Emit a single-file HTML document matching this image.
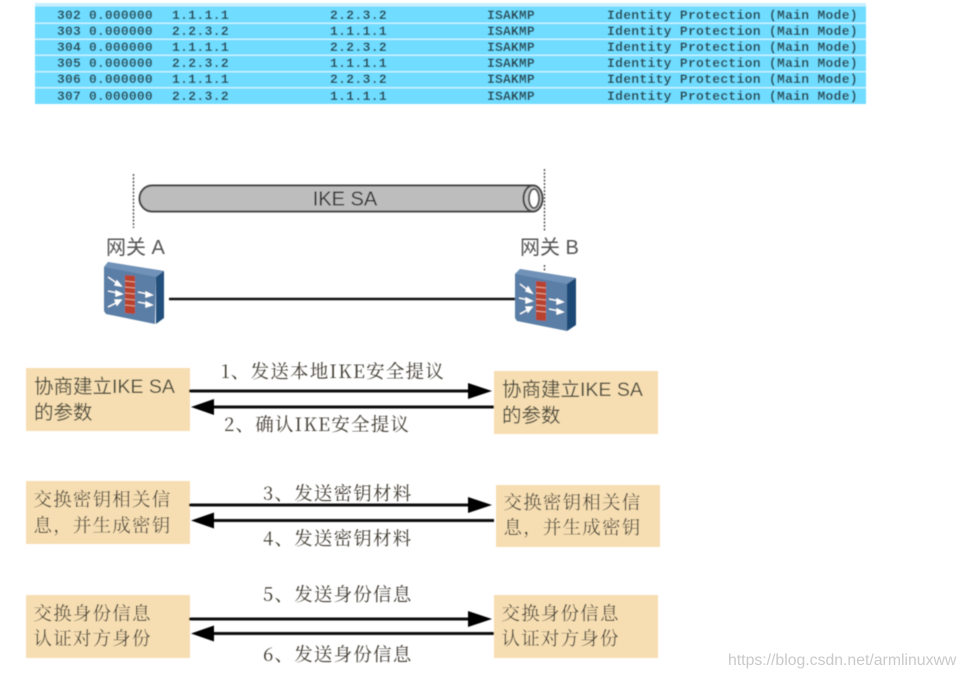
<!DOCTYPE html>
<html>
<head>
<meta charset="utf-8">
<style>
html,body{margin:0;padding:0;background:#fff;width:966px;height:677px;overflow:hidden}
svg{display:block}
.m{font-family:"Liberation Mono",monospace;font-size:13px;font-weight:bold;fill:#2a4a52;letter-spacing:.35px}
.g{font-family:"Liberation Sans","Noto Sans CJK SC",sans-serif;font-size:20px;fill:#555}
.b{font-family:"Liberation Sans","Noto Sans CJK SC",sans-serif;font-size:19.500px;fill:#4a4a3a}
.t{font-family:"Noto Serif CJK SC","Liberation Serif",serif;font-size:18.500px;fill:#3f3a30;letter-spacing:1.200px}
</style>
</head>
<body>
<svg width="966" height="677" viewBox="0 0 966 677" xmlns="http://www.w3.org/2000/svg">
<defs>
<filter id="bl" x="-5%" y="-5%" width="110%" height="110%"><feGaussianBlur stdDeviation="0.4"/></filter>
</defs>

<!-- capture table -->
<g filter="url(#bl)">
<rect x="35" y="3" width="831" height="101" fill="#70dcff"/>
<g fill="#c6f0ff">
<rect x="35" y="3" width="831" height="3.500"/>
<rect x="35" y="22.500" width="831" height="1.500"/>
<rect x="35" y="38.500" width="831" height="1.500"/>
<rect x="35" y="54.500" width="831" height="1.500"/>
<rect x="35" y="71" width="831" height="1.500"/>
<rect x="35" y="87" width="831" height="1.500"/>
</g>
<g class="m">
<text x="57" y="19" textLength="96" xml:space="preserve">302 0.000000</text><text x="172" y="19" textLength="57">1.1.1.1</text><text x="330" y="19" textLength="57">2.2.3.2</text><text x="487" y="19" textLength="48">ISAKMP</text><text x="607" y="19" textLength="251" xml:space="preserve">Identity Protection (Main Mode)</text>
<text x="57" y="35" textLength="96" xml:space="preserve">303 0.000000</text><text x="172" y="35" textLength="57">2.2.3.2</text><text x="330" y="35" textLength="57">1.1.1.1</text><text x="487" y="35" textLength="48">ISAKMP</text><text x="607" y="35" textLength="251" xml:space="preserve">Identity Protection (Main Mode)</text>
<text x="57" y="51" textLength="96" xml:space="preserve">304 0.000000</text><text x="172" y="51" textLength="57">1.1.1.1</text><text x="330" y="51" textLength="57">2.2.3.2</text><text x="487" y="51" textLength="48">ISAKMP</text><text x="607" y="51" textLength="251" xml:space="preserve">Identity Protection (Main Mode)</text>
<text x="57" y="67" textLength="96" xml:space="preserve">305 0.000000</text><text x="172" y="67" textLength="57">2.2.3.2</text><text x="330" y="67" textLength="57">1.1.1.1</text><text x="487" y="67" textLength="48">ISAKMP</text><text x="607" y="67" textLength="251" xml:space="preserve">Identity Protection (Main Mode)</text>
<text x="57" y="83" textLength="96" xml:space="preserve">306 0.000000</text><text x="172" y="83" textLength="57">1.1.1.1</text><text x="330" y="83" textLength="57">2.2.3.2</text><text x="487" y="83" textLength="48">ISAKMP</text><text x="607" y="83" textLength="251" xml:space="preserve">Identity Protection (Main Mode)</text>
<text x="57" y="100" textLength="96" xml:space="preserve">307 0.000000</text><text x="172" y="100" textLength="57">2.2.3.2</text><text x="330" y="100" textLength="57">1.1.1.1</text><text x="487" y="100" textLength="48">ISAKMP</text><text x="607" y="100" textLength="251" xml:space="preserve">Identity Protection (Main Mode)</text>
</g>
</g>

<g filter="url(#bl)">
<!-- dotted guides -->
<line x1="133.500" y1="174" x2="133.500" y2="228" stroke="#444" stroke-width="1.300" stroke-dasharray="2 1.500"/>
<line x1="544.500" y1="169" x2="544.500" y2="231" stroke="#444" stroke-width="1.300" stroke-dasharray="2 1.500"/>
<line x1="544.500" y1="265" x2="544.500" y2="272" stroke="#444" stroke-width="1.300" stroke-dasharray="2 1.500"/>

<!-- tunnel -->
<path d="M152,185.500 H533 V211.500 H152 A12.500,13 0 0 1 152,185.500 Z" fill="#bdbdbd" stroke="#444" stroke-width="2"/>
<ellipse cx="533" cy="198.500" rx="9.500" ry="13" fill="#c4c4c4" stroke="#444" stroke-width="2"/>
<ellipse cx="534" cy="198.500" rx="5" ry="9.500" fill="#fff" stroke="#555" stroke-width="2"/>
<text x="345" y="205.500" text-anchor="middle" style="font-family:'Liberation Sans',sans-serif;font-size:20px;fill:#333">IKE SA</text>

<text class="g" x="106" y="254">网关 A</text>
<text class="g" x="520" y="254">网关 B</text>

<!-- link -->
<line x1="169" y1="299" x2="516" y2="299" stroke="#111" stroke-width="2.600"/>

<!-- firewall A -->
<g>
<polygon points="104,267 108,262 164,271 156,277 155,324 106,314 104,311" fill="#5a7ea5"/>
<polygon points="104,267 108,262 164,271 156,277" fill="#6f92b8"/>
<polygon points="156,277 164,271 164,318 156,324" fill="#234f7c"/>
<polygon points="125,275 135,276 135,314 125,313" fill="#b9432f"/>
<g stroke="#efc0b0" stroke-width=".7"><line x1="125" y1="281" x2="135" y2="282"/><line x1="125" y1="287" x2="135" y2="288"/><line x1="125" y1="293" x2="135" y2="294"/><line x1="125" y1="299" x2="135" y2="300"/><line x1="125" y1="305" x2="135" y2="306"/></g>
<g stroke="#fff" stroke-width="1.300" fill="#fff">
<line x1="108" y1="277" x2="118" y2="284"/><polygon points="121,286 115,285 117,281"/>
<line x1="108" y1="291" x2="118" y2="293"/><polygon points="122,294 116,296 116,291"/>
<line x1="108" y1="307" x2="118" y2="302"/><polygon points="121,300 117,305 115,300"/>
<line x1="138" y1="292" x2="148" y2="294"/><polygon points="152,295 146,297 146,292"/>
<line x1="138" y1="302" x2="148" y2="304"/><polygon points="152,305 146,307 146,302"/>
</g>
</g>

<!-- firewall B -->
<g>
<polygon points="515,274 520,269 576,278 567,284 567,331 517,321 515,318" fill="#5a7ea5"/>
<polygon points="515,274 520,269 576,278 567,284" fill="#6f92b8"/>
<polygon points="567,284 576,278 576,325 567,331" fill="#1d4875"/>
<polygon points="536,281 546,282 546,321 536,320" fill="#b9432f"/>
<g stroke="#efc0b0" stroke-width=".7"><line x1="536" y1="287" x2="546" y2="288"/><line x1="536" y1="293" x2="546" y2="294"/><line x1="536" y1="299" x2="546" y2="300"/><line x1="536" y1="305" x2="546" y2="306"/><line x1="536" y1="311" x2="546" y2="312"/></g>
<g stroke="#fff" stroke-width="1.300" fill="#fff">
<line x1="520" y1="284" x2="529" y2="291"/><polygon points="532,293 526,291 528,287"/>
<line x1="519" y1="298" x2="529" y2="300"/><polygon points="532,301 526,303 526,298"/>
<line x1="520" y1="314" x2="529" y2="309"/><polygon points="532,307 528,312 526,307"/>
<line x1="549" y1="299" x2="559" y2="301"/><polygon points="563,302 557,304 557,299"/>
<line x1="549" y1="309" x2="559" y2="311"/><polygon points="563,312 557,314 557,309"/>
</g>
</g>

<!-- boxes -->
<g fill="#f6deb2">
<rect x="26" y="368" width="164" height="63"/>
<rect x="494" y="371" width="164" height="63"/>
<rect x="26" y="481" width="164" height="63"/>
<rect x="496" y="485" width="164" height="62"/>
<rect x="26" y="595" width="164" height="63"/>
<rect x="494" y="595" width="164" height="63"/>
</g>

<text class="b" x="34" y="393">协商建立IKE SA</text>
<text class="b" x="34" y="419">的参数</text>
<text class="b" x="502" y="396">协商建立IKE SA</text>
<text class="b" x="502" y="422">的参数</text>
<text class="t" x="33.500" y="506">交换密钥相关信</text>
<text class="t" x="33.500" y="532">息，并生成密钥</text>
<text class="t" x="503.500" y="509">交换密钥相关信</text>
<text class="t" x="503.500" y="534">息，并生成密钥</text>
<text class="t" x="33.500" y="620">交换身份信息</text>
<text class="t" x="33.500" y="645">认证对方身份</text>
<text class="t" x="501.500" y="620">交换身份信息</text>
<text class="t" x="501.500" y="645">认证对方身份</text>

<!-- arrows -->
<g stroke="#111" stroke-width="3">
<line x1="189" y1="391" x2="472" y2="391"/>
<line x1="210" y1="407" x2="494" y2="407"/>
<line x1="189" y1="505" x2="472" y2="505"/>
<line x1="210" y1="520.500" x2="494" y2="520.500"/>
<line x1="189" y1="619" x2="472" y2="619"/>
<line x1="210" y1="633.500" x2="494" y2="633.500"/>
</g>
<g fill="#000">
<polygon points="492,391 468,383 468,399"/>
<polygon points="191,407 214,399 214,415"/>
<polygon points="492,505 468,497 468,513"/>
<polygon points="191,520.500 214,512.500 214,528.500"/>
<polygon points="492,619 468,611 468,627"/>
<polygon points="191,633.500 214,625.500 214,641.500"/>
</g>

<text class="t" x="221" y="378">1、发送本地IKE安全提议</text>
<text class="t" x="224" y="431">2、确认IKE安全提议</text>
<text class="t" x="263" y="500">3、发送密钥材料</text>
<text class="t" x="263" y="545">4、发送密钥材料</text>
<text class="t" x="263" y="601">5、发送身份信息</text>
<text class="t" x="263" y="661">6、发送身份信息</text>
</g>

<text x="728" y="665" style="font-family:'Liberation Sans',sans-serif;font-size:15.800px;fill:#c9c9c9">https://blog.csdn.net/armlinuxww</text>
</svg>
</body>
</html>
